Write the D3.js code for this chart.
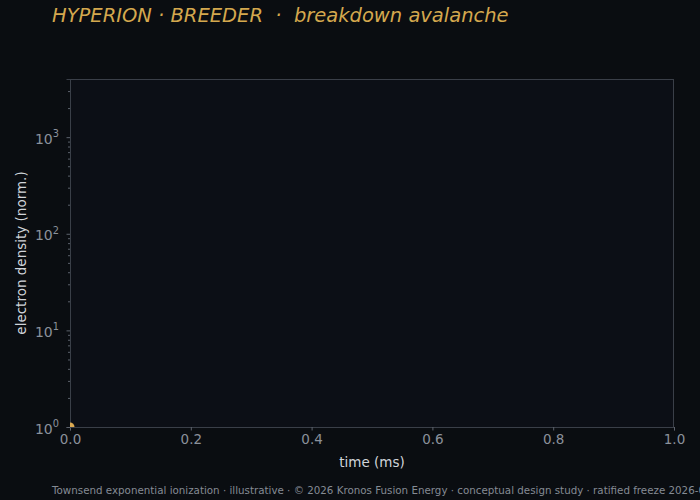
<!DOCTYPE html>
<html><head><meta charset="utf-8">
<script src="https://cdn.jsdelivr.net/npm/d3@7"></script>
<style>
html,body{margin:0;padding:0;background:#0a0d11;}
svg{display:block;font-family:"DejaVu Sans",sans-serif;}
</style></head>
<body><svg id="c" width="700" height="500"></svg>
<script>
const times = [0.0];
const density = [1.0];
const xTicks = [0, 0.2, 0.4, 0.6, 0.8, 1.0];
const yDecades = [1, 10, 100, 1000];
const titleText = "HYPERION · BREEDER  ·  breakdown avalanche";
const footerText = "Townsend exponential ionization · illustrative · © 2026 Kronos Fusion Energy · conceptual design study · ratified freeze 2026-03";

const svg = d3.select("#c");
const W = 700, H = 500;
const m = {left: 70, right: 674, top: 79, bottom: 427};
svg.append("rect").attr("width", W).attr("height", H).attr("fill", "#0a0d11");
svg.append("rect").attr("x", m.left).attr("y", m.top)
  .attr("width", m.right - m.left).attr("height", m.bottom - m.top).attr("fill", "#0c0f16");

const x = d3.scaleLinear().domain([0, 1]).range([m.left, m.right]);
const y = d3.scaleLog().domain([1, 4000]).range([m.bottom, m.top]);

const axisCol = "#3a3f48", tickLbl = "#8b919b";

// x axis
const xa = svg.append("g").attr("transform", `translate(0,${m.bottom})`)
  .call(d3.axisBottom(x).tickValues(xTicks).tickFormat(d3.format(".1f")).tickSize(3.5).tickPadding(4));
xa.select(".domain").attr("stroke", axisCol);
xa.selectAll(".tick line").attr("stroke", "#5c626c");
xa.selectAll(".tick text").attr("fill", tickLbl).attr("font-size", 13.5).attr("font-family", "DejaVu Sans");

// y axis minor ticks
const minor = [];
for (const d of yDecades) for (let k = 2; k <= 9; k++) { const v = d * k; if (v <= 4000) minor.push(v); }
const ym = svg.append("g").attr("transform", `translate(${m.left},0)`)
  .call(d3.axisLeft(y).tickValues(minor).tickFormat("").tickSize(2));
ym.select(".domain").remove();
ym.selectAll(".tick line").attr("stroke", "#5c626c");

const ya = svg.append("g").attr("transform", `translate(${m.left},0)`)
  .call(d3.axisLeft(y).tickValues(yDecades).tickFormat("").tickSize(3.5));
ya.select(".domain").attr("stroke", axisCol);
ya.selectAll(".tick line").attr("stroke", "#5c626c");
ya.selectAll(".tick").each(function(d) {
  const t = d3.select(this).append("text").attr("x", -11).attr("y", 6)
    .attr("text-anchor", "end").attr("fill", tickLbl).attr("font-size", 14).attr("font-family", "DejaVu Sans");
  t.append("tspan").text("10");
  t.append("tspan").attr("dy", -6.5).attr("font-size", 9.8).text(String(Math.round(Math.log10(d))));
});

// frame top and right
svg.append("line").attr("x1", m.left).attr("x2", m.right).attr("y1", m.top + 0.5).attr("y2", m.top + 0.5).attr("stroke", axisCol);
svg.append("line").attr("x1", m.right - 0.5).attr("x2", m.right - 0.5).attr("y1", m.top).attr("y2", m.bottom).attr("stroke", axisCol);

// clip + data
svg.append("clipPath").attr("id", "clip").append("rect")
  .attr("x", m.left).attr("y", m.top).attr("width", m.right - m.left).attr("height", m.bottom - m.top);
const data = times.map((t, i) => ({t, v: density[i]}));
const g = svg.append("g").attr("clip-path", "url(#clip)");
g.append("path").datum(data).attr("fill", "none").attr("stroke", "#dcaa52").attr("stroke-width", 2)
  .attr("d", d3.line().x(d => x(d.t)).y(d => y(d.v)));
g.selectAll("circle").data(data).join("circle")
  .attr("cx", d => x(d.t)).attr("cy", d => y(d.v)).attr("r", 4.5).attr("fill", "#dcaa52");

// labels
svg.append("text").attr("x", (m.left + m.right) / 2).attr("y", 467).attr("text-anchor", "middle")
  .attr("fill", "#d0d4da").attr("font-size", 13.5).text("time (ms)");
svg.append("text").attr("transform", `translate(26,${(m.top + m.bottom) / 2}) rotate(-90)`).attr("text-anchor", "middle")
  .attr("fill", "#d0d4da").attr("font-size", 13.5).text("electron density (norm.)");
svg.append("text").attr("x", 52).attr("y", 22).attr("fill", "#d4a84e").attr("font-size", 19.5)
  .attr("font-style", "italic").style("white-space", "pre").attr("xml:space", "preserve").text(titleText);
svg.append("text").attr("x", 52).attr("y", 494).attr("fill", "#858b94").attr("font-size", 10.3)
  .text(footerText);
</script></body></html>
